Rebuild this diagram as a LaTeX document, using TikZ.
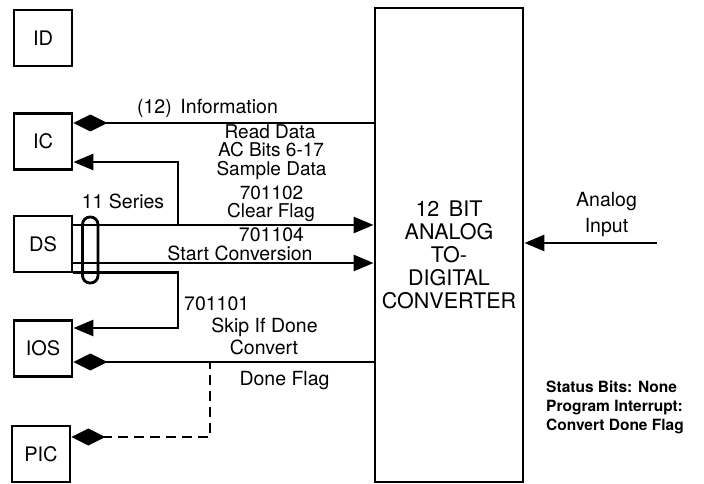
\documentclass[tikz,border=0pt]{standalone}
\usepackage{fontspec}
\setmainfont{TeX Gyre Heros}
\usetikzlibrary{arrows.meta}
\begin{document}
\begin{tikzpicture}[x=1pt,y=-1pt,
  unit/.style={draw,line width=2.8pt,minimum width=58pt,minimum height=56pt,inner sep=0pt,font=\fontsize{20}{22}\selectfont},
  wire/.style={line width=2.8pt},
  lbl/.style={inner sep=0pt,text height=13.6pt,text depth=0pt,font=\fontsize{19.5}{21}\selectfont},
  small/.style={inner sep=0pt,anchor=west,text height=11pt,text depth=0pt,font=\bfseries\fontsize{15.5}{17}\selectfont},
  tri/.style={-{Triangle[length=20pt,width=16pt]}},
  dia/.style={{Diamond[length=34pt,width=17pt]}-}
]
\useasboundingbox (0,0) rectangle (704,484);
% units
\node[unit] (ID)  at (43,38) {ID};
\node[unit] (IC)  at (43,141.5) {IC};
\node[unit] (DS)  at (43,244) {DS};
\node[unit] (IOS) at (43,348.5) {IOS};
\node[unit] (PIC) at (41,454) {PIC};
\node[draw,line width=2.8pt,minimum width=148pt,minimum height=474pt,inner sep=0pt] (conv) at (449,245) {};
\node[inner sep=0pt,align=center,font=\fontsize{21.5}{23}\selectfont] (convlbl) at (449,255)
      {12\,\ BIT\\ANALOG\\TO-\\DIGITAL\\CONVERTER};
% level coordinates
\coordinate (yinfo) at (0,123);
\coordinate (yread) at (0,162);
\coordinate (yclr) at (0,225);
\coordinate (ystart) at (0,263);
\coordinate (yskip) at (0,272.5);
\coordinate (yios) at (0,328);
\coordinate (ydone) at (0,362);
\coordinate (ypic) at (0,437);
\coordinate (xrd) at (178,0);
\coordinate (xdash) at (210,0);
\coordinate (ain) at (657,243);
% connectors
\draw[wire,dia] (IC.east |- yinfo) -- (conv.west |- yinfo);
\draw[wire,tri] (xrd |- yclr) -- (xrd |- yread) -- (IC.east |- yread);
\draw[wire,tri] (DS.east |- yclr) -- (conv.west |- yclr);
\draw[wire,tri] (DS.east |- ystart) -- (conv.west |- ystart);
\draw[wire,tri] (DS.east |- yskip) -- (xrd |- yskip) -- (xrd |- yios) -- (IOS.east |- yios);
\draw[wire,dia] (IOS.east |- ydone) -- (conv.west |- ydone);
\coordinate (dj) at (xdash |- ydone);
\draw[wire,dia,dash pattern=on 10pt off 6pt] (PIC.east |- ypic) -- (xdash |- ypic) -- (dj);
\draw[wire,tri] (ain) -- (conv.east |- ain);
% 11 series oval
\draw[line width=2.8pt,rounded corners=7.5pt] (82.5,217) rectangle (98,283);
\node[lbl] (ser) at (123,201.5) {11 Series};
% labels
\node[lbl] (tinfo) at (207.5,107) {(12)\, Information};
\node[lbl,font=\fontsize{19}{21}\selectfont,text height=13.2pt] (tread) at (270,131.5) {Read Data};
\node[lbl,font=\fontsize{19}{21}\selectfont,text height=13.2pt] (tac) at (271,150) {AC Bits 6-17};
\node[lbl,font=\fontsize{19}{21}\selectfont,text height=13.2pt] (tsamp) at (271.5,168.5) {Sample Data};
\node[lbl,font=\fontsize{19}{21}\selectfont,text height=13.2pt] (t102) at (271.5,192.5) {701102};
\node[lbl,font=\fontsize{19}{21}\selectfont,text height=13.2pt] (tclr) at (271,211) {Clear Flag};
\node[lbl] (t104) at (271.5,235) {701104};
\node[lbl] (tstart) at (240,253.5) {Start Conversion};
\node[lbl,anchor=west] (t101) at (184,303.5) {701101};
\node[lbl] (tskip) at (264.5,326) {Skip If Done};
\node[lbl] (tconv) at (264,347.5) {Convert};
\node[lbl] (tdone) at (284.5,379) {Done Flag};
\node[lbl] (tanalog) at (606.5,200) {Analog};
\node[lbl] (tinput) at (606.5,225.5) {Input};
\node[small] (tstat1) at (546,387) {Status Bits: None};
\node[small] (tstat2) at (546,406) {Program Interrupt:};
\node[small] (tstat3) at (546,425) {Convert Done Flag};
\end{tikzpicture}
\end{document}
